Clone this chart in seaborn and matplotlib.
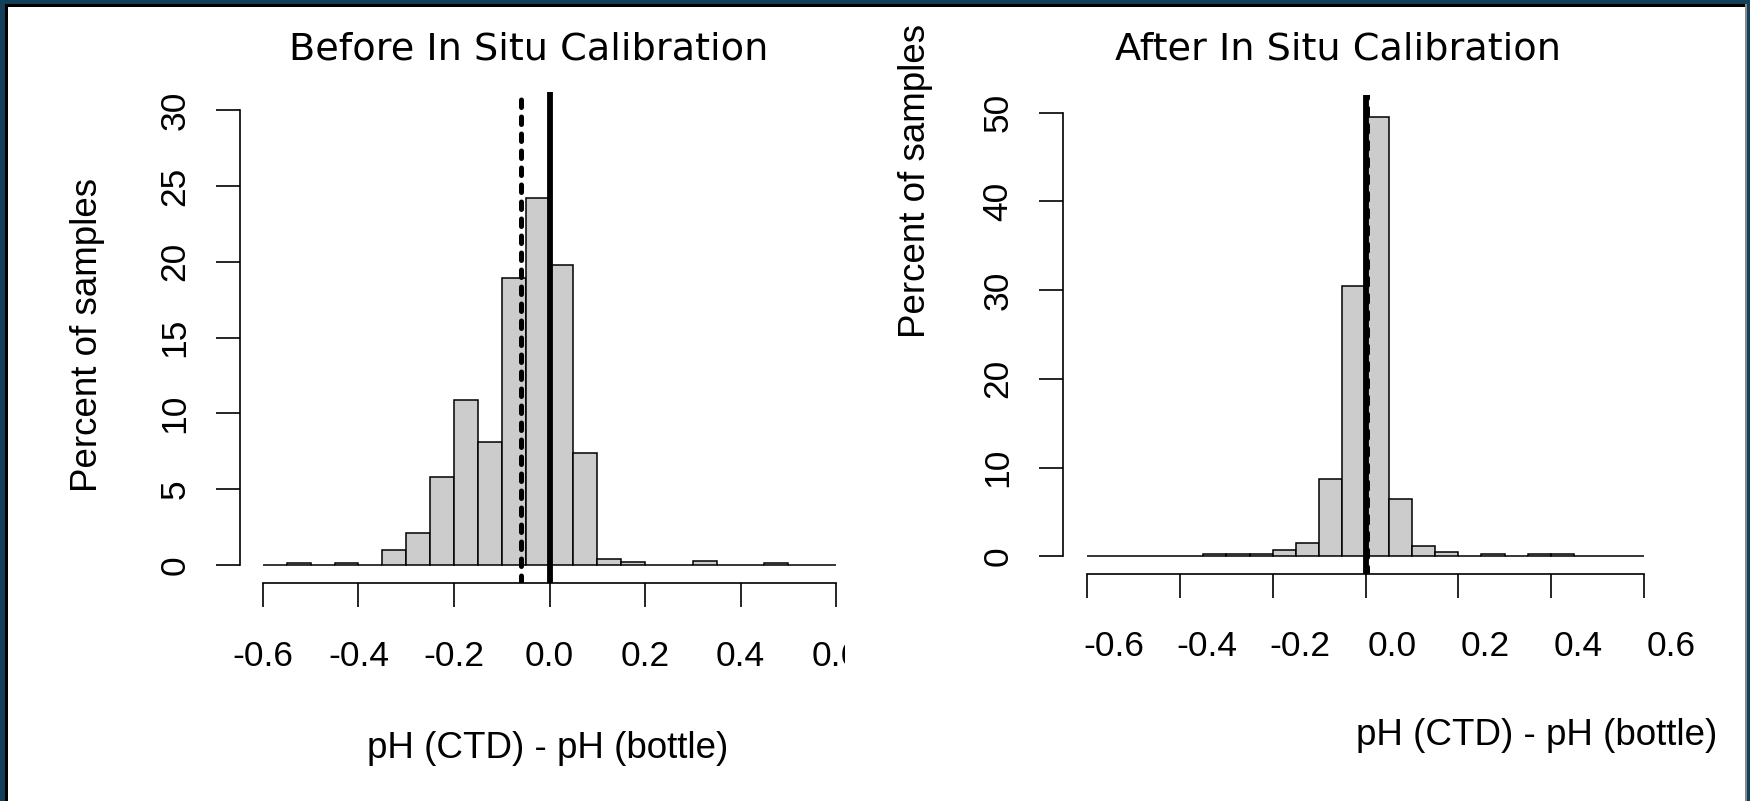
import numpy as np
import pandas as pd
import matplotlib
matplotlib.use("Agg")
import matplotlib.pyplot as plt
from matplotlib.patches import Rectangle
from matplotlib.transforms import ScaledTranslation
import seaborn as sns

# ---------------- data ----------------
bin_edges = [-0.60, -0.55, -0.50, -0.45, -0.40, -0.35, -0.30, -0.25, -0.20, -0.15,
             -0.10, -0.05, 0.00, 0.05, 0.10, 0.15, 0.20, 0.25, 0.30, 0.35,
             0.40, 0.45, 0.50, 0.55, 0.60]
before_pct = [0, 0.1, 0, 0.1, 0, 1.0, 2.1, 5.8, 10.9, 8.1, 18.9, 24.2,
              19.8, 7.35, 0.4, 0.2, 0, 0, 0.22, 0, 0, 0.1, 0, 0]
after_pct = [0, 0, 0, 0, 0, 0.25, 0.25, 0.25, 0.7, 1.5, 8.7, 30.5,
             49.5, 6.4, 1.2, 0.45, 0, 0.25, 0, 0.25, 0.25, 0, 0, 0]
before_mean = -0.06
after_mean = 0.004
x_ticks = [-0.6, -0.4, -0.2, 0.0, 0.2, 0.4, 0.6]
x_ticklabels = ["-0.6", "-0.4", "-0.2", "0.0", "0.2", "0.4", "0.6"]
before_yticks = [0, 5, 10, 15, 20, 25, 30]
after_yticks = [0, 10, 20, 30, 40, 50]
titles = ["Before In Situ Calibration", "After In Situ Calibration"]
xlabel = "pH (CTD) - pH (bottle)"
ylabel = "Percent of samples"

edges = np.array(bin_edges)
centers = (edges[:-1] + edges[1:]) / 2

# ---------------- style ----------------
sns.set_style("ticks")
plt.rcParams["font.family"] = ["Liberation Sans", "DejaVu Sans"]
for key in ("text.color", "axes.labelcolor", "xtick.color", "ytick.color", "axes.edgecolor"):
    plt.rcParams[key] = "black"

W, H = 1750, 801
fig = plt.figure(figsize=(W / 100, H / 100), dpi=100)
fig.patch.set_facecolor("white")


def fx(px):
    return px / W


def fy(py):
    return 1 - py / H


def add_axes_px(left, top, right, bottom):
    return fig.add_axes([fx(left), fy(bottom), fx(right) - fx(left), fy(top) - fy(bottom)])


teal = "#133f58"
TICK_LEN = 17
TICK_FS = 25.5
LABEL_FS = 26.5
TITLE_FS = 27.5

panels = [
    dict(box=(240, 92, 859, 583), pct=before_pct, mean=before_mean, yticks=before_yticks,
         ylim=(-1.2, 31.2), xlim=(-0.648, 0.648), title=titles[0],
         title_xy=(0.467, 1.0652), ylab_xy=(-0.247, 0.505), xlab_xy=(0.4976, -0.337),
         xshift=0, xpad=24),
    dict(box=(1063, 95, 1668, 574), pct=after_pct, mean=after_mean, yticks=after_yticks,
         ylim=(-2.0, 52.0), xlim=(-0.652, 0.652), title=titles[1],
         title_xy=(0.455, 1.0731), ylab_xy=(-0.243, 0.820), xlab_xy=(0.783, -0.338),
         xshift=27, xpad=23),
]

for p in panels:
    ax = add_axes_px(*p["box"])
    df = pd.DataFrame({"center": centers, "pct": p["pct"]})
    sns.histplot(data=df, x="center", weights="pct", bins=list(bin_edges), stat="count",
                 color="#cccccc", edgecolor="black", linewidth=1.1, alpha=1,
                 ax=ax, zorder=2)
    ax.axvline(0.0, color="black", lw=4.2, solid_capstyle="round", zorder=3)
    ax.axvline(p["mean"], color="black", lw=3.6, linestyle=(0, (1.5, 1.9)),
               dash_capstyle="round", zorder=4)

    ax.set_xlim(*p["xlim"])
    ax.set_ylim(*p["ylim"])
    sns.despine(ax=ax)
    ax.spines["left"].set_bounds(p["yticks"][0], p["yticks"][-1])
    ax.spines["bottom"].set_bounds(x_ticks[0], x_ticks[-1])
    for s in ("left", "bottom"):
        ax.spines[s].set_linewidth(1.2)
        ax.spines[s].set_color("black")

    ax.set_xticks(x_ticks)
    ax.set_xticklabels(x_ticklabels)
    ax.set_yticks(p["yticks"])
    ax.set_yticklabels([str(v) for v in p["yticks"]])
    ax.tick_params(axis="both", length=TICK_LEN, width=1.2, color="black",
                   labelcolor="black", labelsize=TICK_FS, direction="out")
    ax.tick_params(axis="x", pad=p["xpad"])
    ax.tick_params(axis="y", pad=18, labelrotation=90)
    for lab in ax.get_yticklabels():
        lab.set_va("center")
    if p["xshift"]:
        off = ScaledTranslation(p["xshift"] / 100, 0, fig.dpi_scale_trans)
        for lab in ax.get_xticklabels():
            lab.set_transform(lab.get_transform() + off)

    ax.set_xlabel(xlabel, fontsize=LABEL_FS, ha="center", va="center", color="black")
    ax.xaxis.set_label_coords(*p["xlab_xy"])
    ax.set_ylabel(ylabel, fontsize=LABEL_FS, ha="center", va="center", color="black")
    ax.yaxis.set_label_coords(*p["ylab_xy"])

    ax.set_title(p["title"], x=p["title_xy"][0], y=p["title_xy"][1], pad=0,
                 fontsize=TITLE_FS, va="baseline", ha="center", color="black",
                 family=["DejaVu Sans"])
    ax.patch.set_alpha(0)

# crop of the left panel's last tick label, as in the original slide
fig.add_artist(Rectangle((fx(845), fy(695)), fx(900) - fx(845), fy(622) - fy(695),
                         transform=fig.transFigure, facecolor="white", edgecolor="none",
                         zorder=10))

# slide frame
frame = [
    ((0, 0), 5, H, teal),        # left teal strip
    ((5, 4), 3, H, "black"),     # left black rule
    ((0, 0), W, 4, teal),        # top teal strip
    ((5, 4), W, 3, "black"),     # top black rule
    ((1745, 4), 2, H, "#8a8a8a"),
    ((1747, 0), 3, H, teal),
]
for (x, y), w, h, c in frame:
    fig.add_artist(Rectangle((fx(x), fy(y + h)), w / W, h / H, transform=fig.transFigure,
                             facecolor=c, edgecolor="none", zorder=11))

fig.savefig("out.png", dpi=100, facecolor="white")
